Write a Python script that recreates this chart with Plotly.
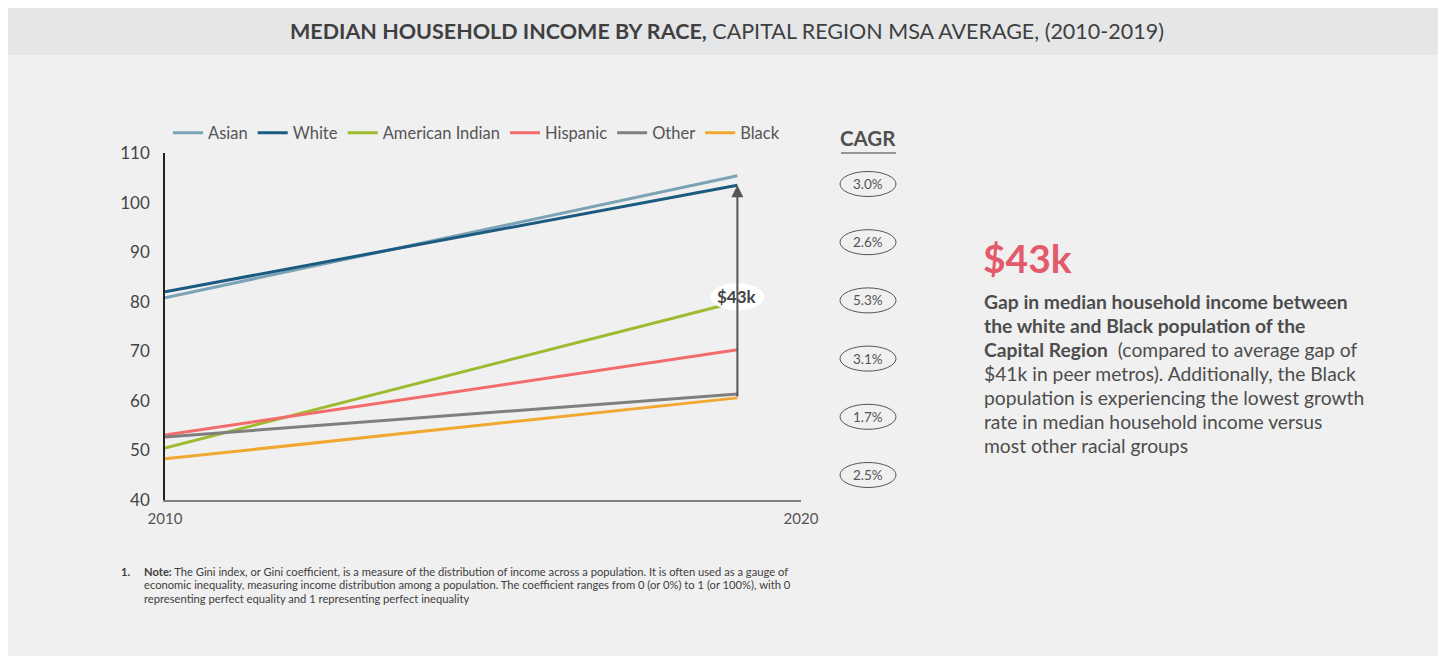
import plotly.graph_objects as go

# data (thousands of $)
years = [2010, 2019]
races = ['Asian', 'White', 'American Indian', 'Hispanic', 'Other', 'Black']
asian = [80.8, 105.4]
white = [82.0, 103.5]
american_indian = [50.5, 80.0]
hispanic = [53.1, 70.3]
other = [52.7, 61.4]
black = [48.3, 60.6]
cagr = ['3.0%', '2.6%', '5.3%', '3.1%', '1.7%', '2.5%']
gap_label = '$43k'

colors = ['#7ba3b5', '#1b5b82', '#9dbb2f', '#f46b6b', '#7f7f7f', '#f0a830']
series = [asian, white, american_indian, hispanic, other, black]

# page is drawn with an 8px body margin
OFF = 8
W, H = 1430, 648
L, R, T, B = 165 - OFF, 801 - OFF, 153 - OFF, 500 - OFF


def px(x):
    return (x - OFF - L) / (R - L)


def py(y):
    return (B - (y - OFF)) / (B - T)


fig = go.Figure()
for name, vals, c in zip(races, series, colors):
    fig.add_trace(go.Scatter(x=years, y=vals, name=name, mode='lines',
                             line=dict(color=c, width=3)))

fig.update_layout(
    width=W, height=H,
    margin=dict(l=L, r=W - R, t=T, b=H - B),
    paper_bgcolor='#f0f0f0', plot_bgcolor='#f0f0f0',
    font=dict(family='Lato', color='#505050'),
    showlegend=True,
    legend=dict(orientation='h', x=px(168), y=py(133), xanchor='left', yanchor='middle',
                font=dict(size=16.5, color='#555555'), bgcolor='rgba(0,0,0,0)',
                tracegroupgap=0),
)
fig.update_xaxes(range=[2010, 2020], tickvals=[2010, 2020], showgrid=False, zeroline=False,
                 showline=True, linecolor='#808080', linewidth=2,
                 tickfont=dict(size=15, color='#555555'), ticks='', ticklabelstandoff=4)
fig.update_yaxes(range=[40, 110], dtick=10, showgrid=False, zeroline=False,
                 showline=True, linecolor='#222222', linewidth=1.5,
                 tickfont=dict(size=17, color='#444444'), ticks='', ticklabelstandoff=10)

# title bar
fig.add_shape(type='rect', xref='paper', yref='paper', x0=px(8), x1=px(1438), y0=py(55), y1=py(8),
              fillcolor='#e5e6e7', line_width=0, layer='below')
fig.add_annotation(xref='paper', yref='paper', x=px(727), y=py(31), showarrow=False,
                   text='<b>MEDIAN HOUSEHOLD INCOME BY RACE,</b> CAPITAL REGION MSA AVERAGE, (2010-2019)',
                   font=dict(size=21.5, color='#3f3f3f'), xanchor='center', yanchor='middle')

# gap arrow between White and Black in 2019
fig.add_annotation(x=years[1], y=white[1], ax=years[1], ay=black[1], axref='x', ayref='y',
                   xref='x', yref='y', showarrow=True, arrowhead=2, arrowsize=1.2,
                   arrowwidth=2, arrowcolor='#555555', text='')
mid = 81
fig.add_shape(type='circle', xref='x', yref='y', xsizemode='pixel', ysizemode='pixel',
              xanchor=years[1], yanchor=mid, x0=-27, x1=27, y0=-13.5, y1=13.5,
              fillcolor='white', line_width=0)
fig.add_annotation(x=years[1], y=mid, text='<b>' + gap_label + '</b>', showarrow=False,
                   xanchor='center', yanchor='middle',
                   font=dict(size=17, color='#444444'))

# CAGR column
fig.add_annotation(xref='paper', yref='paper', x=px(868), y=py(138), text='<b>CAGR</b>',
                   showarrow=False, xanchor='center', yanchor='middle',
                   font=dict(size=20.5, color='#505050'))
fig.add_shape(type='line', xref='paper', yref='paper', x0=px(841), x1=px(896), y0=py(153), y1=py(153),
              line=dict(color='#777777', width=1.5))
for i, v in enumerate(cagr):
    yc = py(184 + i * 58.2)
    fig.add_shape(type='circle', xref='paper', yref='paper', xsizemode='pixel', ysizemode='pixel',
                  xanchor=px(868), yanchor=yc, x0=-28, x1=28, y0=-12.5, y1=12.5,
                  line=dict(color='#555555', width=1), fillcolor='rgba(0,0,0,0)')
    fig.add_annotation(xref='paper', yref='paper', x=px(868), y=yc, text=v, showarrow=False,
                       xanchor='center', yanchor='middle',
                       font=dict(size=13.5, color='#555555'))

# right-hand callout
fig.add_annotation(xref='paper', yref='paper', x=px(981), y=py(258), text='<b>$43k</b>',
                   showarrow=False, xanchor='left', yanchor='middle',
                   font=dict(size=39, color='#e35a6b'))
para = [
    '<b>Gap in median household income between</b>',
    '<b>the white and Black population of the</b>',
    '<b>Capital Region</b>  (compared to average gap of',
    '$41k in peer metros). Additionally, the Black',
    'population is experiencing the lowest growth',
    'rate in median household income versus',
    'most other racial groups',
]
for i, line in enumerate(para):
    fig.add_annotation(xref='paper', yref='paper', x=px(982), y=py(301 + i * 24), text=line,
                       showarrow=False, xanchor='left', yanchor='middle',
                       font=dict(size=19.3, color='#4d4d4d'))

# footnote
fig.add_annotation(xref='paper', yref='paper', x=px(119), y=py(571), text='<b>1.</b>', showarrow=False,
                   xanchor='left', yanchor='middle', font=dict(size=11.2, color='#404040'))
note = [
    '<b>Note:</b> The Gini index, or Gini coefficient, is a measure of the distribution of income across a population. It is often used as a gauge of',
    'economic inequality, measuring income distribution among a population. The coefficient ranges from 0 (or 0%) to 1 (or 100%), with 0',
    'representing perfect equality and 1 representing perfect inequality',
]
for i, line in enumerate(note):
    fig.add_annotation(xref='paper', yref='paper', x=px(142), y=py(571 + i * 13.5), text=line,
                       showarrow=False, xanchor='left', yanchor='middle',
                       font=dict(size=11.2, color='#404040'))

fig.write_html("out.html")
